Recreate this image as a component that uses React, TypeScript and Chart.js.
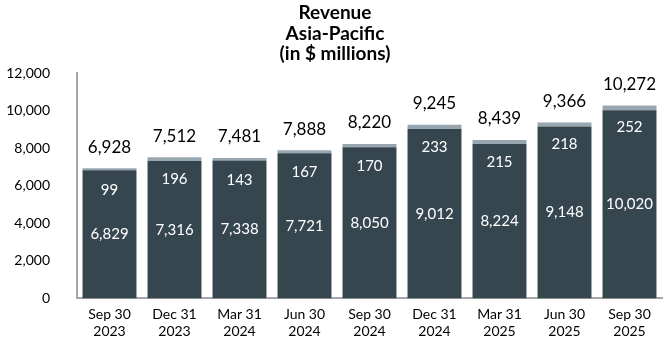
import React, { useEffect, useRef } from "react";
import { Chart, registerables } from "chart.js";

Chart.register(...registerables);

const categories: string[][] = [
  ["Sep 30", "2023"],
  ["Dec 31", "2023"],
  ["Mar 31", "2024"],
  ["Jun 30", "2024"],
  ["Sep 30", "2024"],
  ["Dec 31", "2024"],
  ["Mar 31", "2025"],
  ["Jun 30", "2025"],
  ["Sep 30", "2025"],
];
const baseValues = [6829, 7316, 7338, 7721, 8050, 9012, 8224, 9148, 10020];
const topValues = [99, 196, 143, 167, 170, 233, 215, 218, 252];
const totals = [6928, 7512, 7481, 7888, 8220, 9245, 8439, 9366, 10272];
const titleLines = ["Revenue", "Asia-Pacific", "(in $ millions)"];
const yTicks = [0, 2000, 4000, 6000, 8000, 10000, 12000];

const FONT = "Lato, 'Open Sans', sans-serif";
const fmt = (v: number) => v.toLocaleString("en-US");

const labelPlugin = {
  id: "labelPlugin",
  afterDatasetsDraw(chart: any) {
    const ctx = chart.ctx;
    const metaBase = chart.getDatasetMeta(0);
    const metaTop = chart.getDatasetMeta(1);
    ctx.save();
    ctx.textAlign = "center";
    ctx.textBaseline = "middle";
    metaBase.data.forEach((bar: any, i: number) => {
      const topBar = metaTop.data[i];
      const x = bar.x;
      const yBase = chart.scales.y.getPixelForValue(0);
      ctx.fillStyle = "#ffffff";
      ctx.font = `15px ${FONT}`;
      ctx.fillText(fmt(baseValues[i]), x, (bar.y + yBase) / 2);
      ctx.fillText(fmt(topValues[i]), x, topBar.y + 22);
      ctx.fillStyle = "#000000";
      ctx.font = `17px ${FONT}`;
      ctx.fillText(fmt(totals[i]), x, topBar.y - 21);
    });
    ctx.restore();
  },
  afterDraw(chart: any) {
    const ctx = chart.ctx;
    ctx.save();
    ctx.fillStyle = "#000000";
    ctx.font = `bold 19px ${FONT}`;
    ctx.textAlign = "center";
    ctx.textBaseline = "middle";
    titleLines.forEach((t, i) => ctx.fillText(t, 335, 13 + i * 20.5));
    ctx.restore();
  },
};

export default function App() {
  const ref = useRef<HTMLCanvasElement | null>(null);
  useEffect(() => {
    document.body.style.margin = "0";
    if (!ref.current) return;
    const chart = new Chart(ref.current, {
      type: "bar",
      data: {
        labels: categories,
        datasets: [
          {
            data: baseValues,
            backgroundColor: "#36464f",
            stack: "s",
            barPercentage: 0.83,
            categoryPercentage: 1,
          },
          {
            data: topValues,
            backgroundColor: "#98a6b0",
            stack: "s",
            barPercentage: 0.83,
            categoryPercentage: 1,
          },
        ],
      },
      options: {
        animation: false,
        responsive: false,
        maintainAspectRatio: false,
        layout: { padding: { top: 73, left: 4, right: 8, bottom: 4 } },
        plugins: {
          legend: { display: false },
          title: { display: false },
          tooltip: { enabled: false },
        },
        scales: {
          x: {
            stacked: true,
            grid: { display: false, drawTicks: false },
            border: { display: true, color: "#a6a6a6", width: 2 },
            ticks: {
              color: "#000",
              font: { family: FONT, size: 14 },
              padding: 8,
              maxRotation: 0,
            },
          },
          y: {
            stacked: true,
            min: 0,
            max: 12000,
            afterBuildTicks(scale: any) {
              scale.ticks = yTicks.map((v) => ({ value: v }));
            },
            afterFit(scale: any) {
              scale.width = 73;
            },
            grid: { display: false, drawTicks: false },
            border: { display: true, color: "#a6a6a6", width: 2 },
            ticks: {
              color: "#000",
              font: { family: FONT, size: 14 },
              padding: 27,
              callback: (v: any) => fmt(Number(v)),
            },
          },
        },
      },
      plugins: [labelPlugin],
    });
    return () => chart.destroy();
  }, []);
  return (
    <div style={{ width: 670, height: 352 }}>
      <canvas ref={ref} width={670} height={352} style={{ width: 670, height: 352 }} />
    </div>
  );
}
